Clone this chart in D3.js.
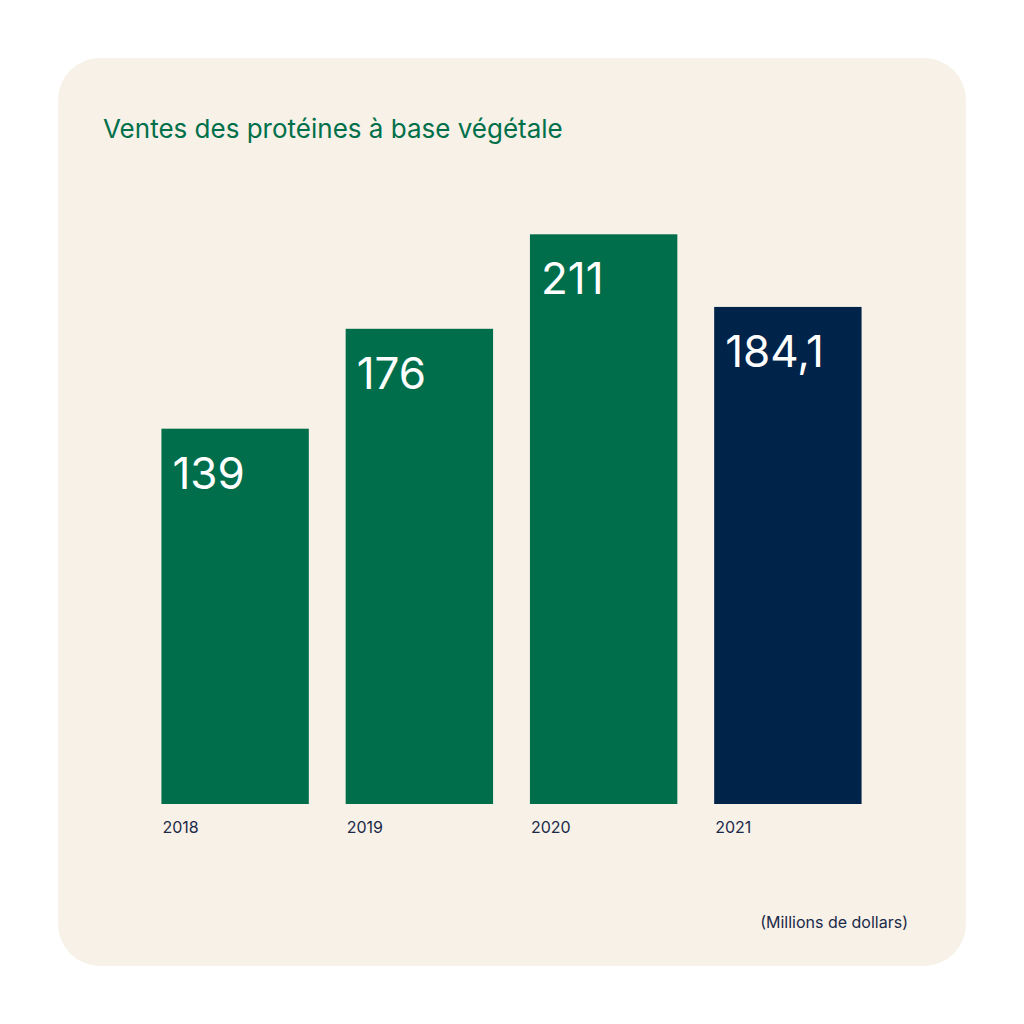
<!DOCTYPE html>
<html><head><meta charset="utf-8">
<script src="https://cdn.jsdelivr.net/npm/d3@7"></script>
<style>body{margin:0;background:#fff}</style>
</head><body>
<div id="chart"></div>
<script>
let years = ["2018", "2019", "2020", "2021"];
let sales = [139, 176, 211, 184.1];
let valueLabels = ["139", "176", "211", "184,1"];
let barColors = ["#006e4b", "#006e4b", "#006e4b", "#00234a"];

let width = 1024, height = 1024;
let svg = d3.select("#chart").append("svg")
    .attr("width", width).attr("height", height);

// beige card
svg.append("rect")
    .attr("x", 58).attr("y", 58).attr("width", 908).attr("height", 908)
    .attr("rx", 42).style("fill", "#f7f1e8");

svg.append("text")
    .attr("x", 103).attr("y", 138)
    .style("font-family", "Inter, 'Noto Sans', sans-serif")
    .style("font-size", "26px").style("fill", "#00704a")
    .text("Ventes des protéines à base végétale");

let x = d3.scaleBand().domain(years).range([143, 880]).paddingInner(0.2).paddingOuter(0.1);
let y = d3.scaleLinear().domain([0, 250]).range([804, 129]);

let g = svg.append("g");
g.selectAll("rect.bar").data(years).enter().append("rect")
    .attr("class", "bar")
    .attr("x", d => x(d))
    .attr("width", x.bandwidth())
    .attr("y", (d, i) => y(sales[i]))
    .attr("height", (d, i) => y(0) - y(sales[i]))
    .style("fill", (d, i) => barColors[i]);

g.selectAll("text.val").data(years).enter().append("text")
    .attr("class", "val")
    .attr("x", d => x(d) + 11)
    .attr("y", (d, i) => y(sales[i]) + 60)
    .style("font-family", "Inter, 'Noto Sans', sans-serif")
    .style("font-size", "44px").style("fill", "#fff")
    .text((d, i) => valueLabels[i]);

g.selectAll("text.year").data(years).enter().append("text")
    .attr("class", "year")
    .attr("x", d => x(d) + 1)
    .attr("y", 833)
    .style("font-family", "Inter, 'Noto Sans', sans-serif")
    .style("font-size", "16px").style("fill", "#1c2a48")
    .text(d => d);

svg.append("text")
    .attr("x", 908).attr("y", 928).attr("text-anchor", "end")
    .style("font-family", "Inter, 'Noto Sans', sans-serif")
    .style("font-size", "16px").style("fill", "#1c2a48")
    .text("(Millions de dollars)");
</script>
</body></html>
